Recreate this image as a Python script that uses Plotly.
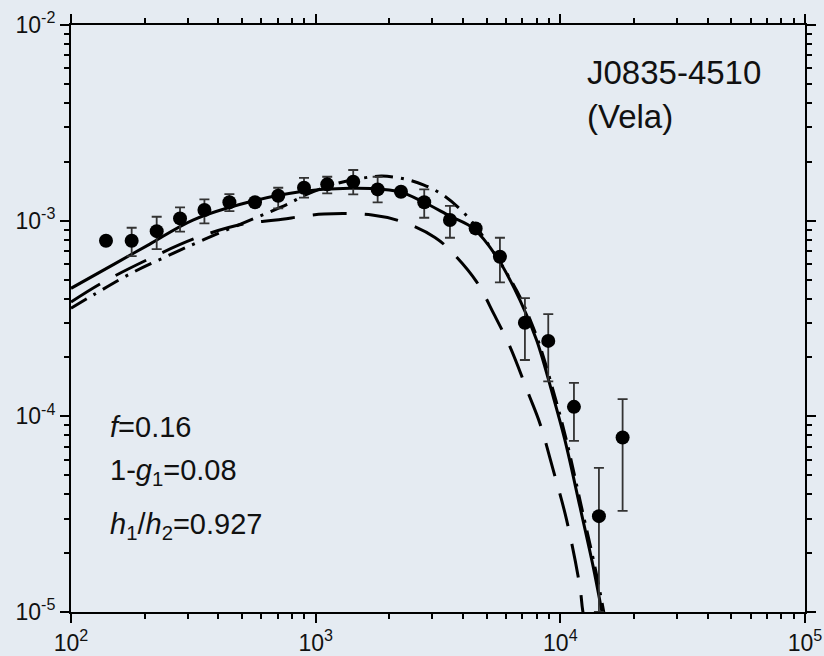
import plotly.graph_objects as go

# Measured spectrum of J0835-4510 (Vela)
energy = [139, 177, 224, 279, 351, 444, 565, 703, 896, 1115, 1424, 1792,
          2232, 2778, 3539, 4507, 5664, 7166, 8926, 11367, 14380, 17970]
flux = [7.89e-4, 7.89e-4, 8.84e-4, 1.027e-3, 1.133e-3, 1.241e-3, 1.241e-3,
        1.341e-3, 1.473e-3, 1.533e-3, 1.581e-3, 1.445e-3, 1.405e-3, 1.241e-3,
        1.007e-3, 9.13e-4, 6.54e-4, 3.01e-4, 2.43e-4, 1.118e-4, 3.09e-5, 7.80e-5]
flux_upper = [7.89e-4, 9.20e-4, 1.047e-3, 1.170e-3, 1.285e-3, 1.368e-3, 1.241e-3,
              1.473e-3, 1.656e-3, 1.677e-3, 1.815e-3, 1.677e-3, 1.405e-3, 1.445e-3,
              1.191e-3, 9.60e-4, 8.18e-4, 4.02e-4, 3.33e-4, 1.484e-4, 5.45e-5, 1.224e-4]
flux_lower = [7.89e-4, 6.59e-4, 7.16e-4, 8.78e-4, 9.69e-4, 1.119e-3, 1.241e-3,
              1.155e-3, 1.310e-3, 1.379e-3, 1.363e-3, 1.241e-3, 1.405e-3, 1.035e-3,
              8.18e-4, 8.70e-4, 4.84e-4, 1.94e-4, 1.51e-4, 7.49e-5, 1.0e-5, 3.29e-5]

# Model curves
solid_x = [100, 152.7, 210, 315, 539, 863, 1381, 1884, 2246, 2745, 3539,
           4406, 5492, 6838, 8003, 9355, 10443, 12028, 13629, 14752, 15300]
solid_y = [4.51e-4, 6.07e-4, 7.59e-4, 1.007e-3, 1.249e-3, 1.405e-3, 1.463e-3,
           1.445e-3, 1.395e-3, 1.249e-3, 1.055e-3, 9.13e-4, 6.54e-4, 3.93e-4,
           2.45e-4, 1.258e-4, 7.55e-5, 3.45e-5, 1.70e-5, 1.02e-5, 8.0e-6]

dashed_x = [100, 132.6, 206.4, 324, 504.6, 688.4, 1081, 1699, 2274, 3073,
            3596, 4549, 5354, 6223, 7392, 8252, 9355, 10612, 12028, 12339, 12800]
dashed_y = [3.84e-4, 4.78e-4, 6.34e-4, 8.15e-4, 9.61e-4, 1.007e-3, 1.081e-3,
            1.068e-3, 9.84e-4, 8.21e-4, 6.93e-4, 4.87e-4, 3.33e-4, 2.27e-4,
            1.314e-4, 9.20e-5, 5.31e-5, 2.95e-5, 1.34e-5, 1.02e-5, 8.0e-6]

dashdot_x = [100, 124.5, 175.9, 248.5, 350.6, 564.9, 785.2, 904.3, 1199, 1561,
             1866, 2317, 2771, 3314, 3952, 4550, 5157, 5936, 6937, 8101, 9505,
             10590, 12198, 13848, 15003, 15500]
dashdot_y = [3.57e-4, 4.20e-4, 5.38e-4, 6.61e-4, 8.02e-4, 1.031e-3, 1.230e-3,
             1.352e-3, 1.539e-3, 1.651e-3, 1.690e-3, 1.632e-3, 1.521e-3, 1.352e-3,
             1.124e-3, 9.22e-4, 7.35e-4, 5.59e-4, 3.93e-4, 2.45e-4, 1.258e-4,
             7.55e-5, 3.45e-5, 1.70e-5, 1.02e-5, 8.0e-6]

x_tickvals = [1e2, 1e3, 1e4, 1e5]
x_ticktext = ["10<sup>2</sup>", "10<sup>3</sup>", "10<sup>4</sup>", "10<sup>5</sup>"]
y_tickvals = [1e-5, 1e-4, 1e-3, 1e-2]
y_ticktext = ["10<sup>-5</sup>", "10<sup>-4</sup>", "10<sup>-3</sup>", "10<sup>-2</sup>"]

BG = "#e5ebf2"
FONT = "Liberation Sans, Arial, sans-serif"

fig = go.Figure()

fig.add_trace(go.Scatter(x=dashed_x, y=dashed_y, mode="lines",
                         line=dict(color="black", width=3, dash="34px,18px", shape="spline"),
                         showlegend=False))
fig.add_trace(go.Scatter(x=dashdot_x, y=dashdot_y, mode="lines",
                         line=dict(color="black", width=3, dash="18px,8px,3px,8px", shape="spline"),
                         showlegend=False))
fig.add_trace(go.Scatter(x=solid_x, y=solid_y, mode="lines",
                         line=dict(color="black", width=3, shape="spline"),
                         showlegend=False))

err_plus = [u - f for u, f in zip(flux_upper, flux)]
err_minus = [f - l for f, l in zip(flux, flux_lower)]
fig.add_trace(go.Scatter(
    x=energy, y=flux, mode="markers",
    marker=dict(color="black", size=14),
    error_y=dict(type="data", symmetric=False, array=err_plus, arrayminus=err_minus,
                 color="#333333", thickness=1.8, width=5),
    showlegend=False))

axis_common = dict(
    type="log", showgrid=False, zeroline=False, automargin=False,
    showline=True, linecolor="black", linewidth=2,
    mirror="allticks", ticks="outside", ticklen=9, tickwidth=2, tickcolor="black",
    tickfont=dict(family=FONT, size=23, color="#111111"),
    minor=dict(ticks="outside", ticklen=5, tickwidth=1.5, tickcolor="black", dtick="D1"),
)

fig.update_xaxes(range=[2, 5], tickvals=x_tickvals, ticktext=x_ticktext, **axis_common)
fig.update_yaxes(range=[-5, -2], tickvals=y_tickvals, ticktext=y_ticktext, **axis_common)

L, R, T, B = 71, 19, 25, 44
W, H = 824, 656
pw, ph = W - L - R, H - T - B


def px_to_paper(px, py):
    return (px - L) / pw, (H - B - py) / ph


annotations = [
    ("J0835-4510", 585, 73, 33),
    ("(Vela)", 585, 116, 33),
    ("<i>f</i>=0.16", 108, 427, 29),
    ("1-<i>g</i><sub>1</sub>=0.08", 108, 472, 29),
    ("<i>h</i><sub>1</sub>/<i>h</i><sub>2</sub>=0.927", 108, 526, 29),
]
for text, px, py, size in annotations:
    xp, yp = px_to_paper(px, py)
    fig.add_annotation(x=xp, y=yp, xref="paper", yref="paper", text=text,
                       showarrow=False, xanchor="left", yanchor="middle",
                       font=dict(family=FONT, size=size, color="#111111"))

fig.update_layout(
    width=W, height=H,
    margin=dict(l=L, r=R, t=T, b=B),
    paper_bgcolor=BG, plot_bgcolor=BG,
)

fig.write_html("out.html")
